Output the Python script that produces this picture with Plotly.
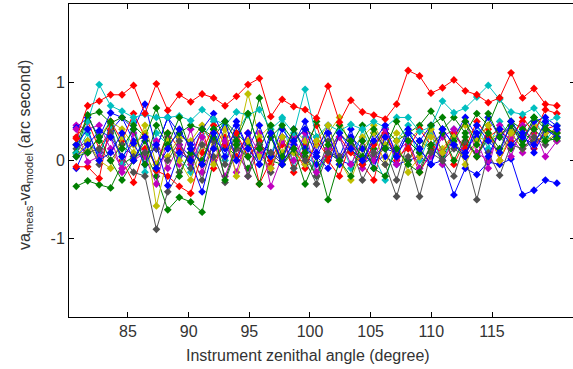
import plotly.graph_objects as go

# Instrument zenithal angle (degree)
angles = [80.74, 81.68, 82.63, 83.57, 84.51, 85.46, 86.40, 87.34, 88.28, 89.23,
          90.17, 91.11, 92.06, 93.00, 93.94, 94.89, 95.83, 96.77, 97.71, 98.66,
          99.60, 100.54, 101.49, 102.43, 103.37, 104.32, 105.26, 106.20, 107.14, 108.09,
          109.03, 109.97, 110.92, 111.86, 112.80, 113.75, 114.69, 115.63, 116.57, 117.52,
          118.46, 119.40, 120.35]

# va_meas - va_model residuals (arc second), one list per measurement set
blue_1 = [-0.10,0.22,0.10,0.38,0.55,0.25,0.30,0.15,0.55,0.20,0.05,0.40,0.25,0.15,0.30,0.05,0.20,0.10,0.00,0.15,0.05,-0.05,0.10,0.00,-0.05,0.05,0.00,0.05,-0.05,0.00,0.05,-0.05,0.00,-0.44,-0.10,-0.18,-0.02,-0.05,0.02,-0.44,-0.38,-0.25,-0.29]
green_1 = [-0.33,-0.26,-0.31,-0.35,-0.05,0.05,0.10,-0.20,-0.63,-0.47,-0.53,-0.66,0.00,0.20,0.05,-0.10,0.15,0.00,-0.05,0.10,0.05,-0.20,0.10,0.00,0.15,-0.05,0.05,0.20,0.10,0.00,0.25,0.15,0.05,0.30,0.20,0.10,0.25,0.30,0.15,0.35,0.25,0.30,0.25]
red_1 = [0.28,0.70,0.76,0.84,0.84,0.96,0.60,0.98,0.64,0.84,0.75,0.85,0.80,0.70,0.82,0.97,1.05,0.56,0.78,0.69,0.65,0.54,0.95,0.49,0.77,0.62,0.58,0.53,0.72,1.15,1.08,0.86,0.93,1.03,0.89,0.84,0.74,0.80,1.12,0.80,0.92,0.72,0.70]
cyan_1 = [0.09,0.50,0.97,0.70,0.63,0.55,0.59,0.55,0.55,0.57,0.51,0.65,0.53,0.45,0.62,0.58,0.65,0.40,0.53,0.35,0.91,0.30,0.45,0.38,0.46,0.40,0.50,0.42,0.55,0.55,0.37,0.43,0.76,0.61,0.67,0.81,0.96,0.78,0.62,0.59,0.67,0.49,0.55]
magenta_1 = [0.45,0.40,0.45,0.15,-0.10,0.35,0.05,-0.30,0.30,-0.05,0.40,-0.15,0.25,-0.20,0.20,-0.20,0.35,-0.33,0.05,0.30,-0.05,0.20,0.35,0.00,0.30,-0.10,0.20,0.40,-0.05,0.25,0.10,0.45,-0.05,0.30,0.50,0.10,0.00,0.40,0.05,0.45,0.20,0.35,0.38]
yellow_1 = [0.08,0.12,0.30,0.50,0.40,0.20,0.35,-0.58,0.05,0.30,0.25,0.45,0.15,0.40,0.20,0.85,0.30,0.45,0.10,0.40,0.25,0.20,0.35,0.55,0.15,0.30,0.45,0.20,0.35,0.25,0.40,0.30,0.15,0.35,0.45,0.30,0.25,0.35,0.40,0.30,0.45,0.35,0.40]
grey_1 = [0.15,0.25,-0.05,0.35,0.05,-0.15,-0.20,-0.88,-0.40,-0.15,0.10,-0.25,0.25,-0.05,0.35,-0.20,0.15,-0.15,0.30,-0.10,0.10,-0.20,0.25,-0.05,0.20,-0.25,0.05,0.15,-0.25,0.25,-0.10,0.20,0.00,-0.20,0.25,0.05,0.30,0.10,0.35,0.15,0.25,0.40,0.30]
blue_2 = [0.42,0.55,0.30,0.61,0.55,0.40,0.72,0.15,0.55,0.35,0.20,0.40,0.60,0.25,0.50,0.15,0.45,0.05,0.40,0.20,0.50,0.10,0.45,0.05,0.40,-0.05,0.35,0.15,0.10,0.40,0.25,0.45,0.10,0.30,0.55,0.30,0.55,0.30,0.45,0.25,0.50,0.55,0.44]
green_2 = [0.10,0.58,0.62,0.48,0.55,0.45,0.30,0.67,0.20,0.35,0.45,0.40,0.30,0.50,0.35,0.20,0.80,0.30,0.45,0.25,0.40,0.30,0.10,0.35,0.20,0.45,0.15,0.40,0.25,0.35,0.45,0.63,0.40,0.55,0.35,0.60,0.45,0.80,0.50,0.40,0.55,0.45,0.30]
red_2 = [-0.08,-0.08,-0.23,0.50,0.25,0.60,0.30,-0.13,-0.20,-0.33,-0.42,0.10,0.45,0.20,0.35,0.05,0.25,-0.05,0.20,0.15,-0.10,0.25,0.05,0.30,0.10,-0.05,0.20,0.35,0.05,0.15,0.40,0.20,0.10,0.35,0.15,0.50,0.30,0.40,0.25,0.55,0.35,0.65,0.60]
cyan_2 = [0.10,0.35,0.05,0.45,-0.05,0.50,-0.15,0.35,0.20,0.05,-0.15,0.30,0.50,0.00,0.35,0.60,0.15,0.05,0.55,-0.10,0.30,-0.20,0.15,0.30,-0.10,0.40,0.05,-0.25,0.25,0.45,0.00,0.35,-0.05,0.40,0.10,0.45,0.15,0.50,0.30,0.40,0.55,0.25,0.45]
magenta_2 = [0.40,-0.02,0.05,0.30,-0.15,0.00,0.10,0.25,-0.10,0.20,-0.05,0.30,0.00,0.25,-0.15,0.35,0.10,-0.10,0.25,0.00,0.35,-0.15,0.15,0.30,-0.05,0.25,0.00,0.40,0.10,0.25,-0.10,0.05,0.30,0.40,0.05,0.25,-0.10,0.45,0.30,0.10,0.40,0.05,0.25]
yellow_2 = [0.05,0.25,0.00,-0.10,0.30,0.10,0.45,-0.05,0.25,0.00,-0.25,0.20,-0.05,0.40,-0.20,0.25,0.05,-0.10,0.30,0.10,-0.05,0.25,0.45,0.00,-0.25,0.15,0.35,-0.05,0.25,-0.15,0.05,0.40,0.10,0.30,-0.05,0.25,0.45,0.00,0.35,0.15,0.30,0.25,0.35]
grey_2 = [0.20,0.10,0.15,0.00,0.20,0.05,0.10,0.15,0.00,0.25,-0.10,0.20,0.05,-0.28,0.15,0.05,0.20,0.10,-0.05,0.15,0.00,-0.30,0.10,0.05,0.20,0.00,0.10,-0.05,-0.46,0.05,-0.46,0.10,0.00,0.15,0.05,-0.50,0.10,-0.19,0.20,0.15,0.30,0.20,0.35]
blue_3 = [0.05,0.20,0.38,0.30,0.05,0.22,-0.05,0.20,-0.32,0.10,0.00,-0.40,0.15,0.50,0.00,0.35,-0.05,0.30,0.00,0.40,0.15,0.05,0.35,-0.05,0.30,0.15,-0.10,0.30,0.05,0.35,0.15,-0.05,0.40,0.20,0.10,0.35,0.05,0.40,0.20,0.35,0.10,0.40,0.30]
green_3 = [0.05,0.10,0.30,0.00,-0.25,0.00,0.25,-0.10,0.35,-0.20,0.15,-0.05,0.40,-0.25,0.20,0.05,-0.30,0.30,-0.05,0.15,-0.30,0.05,-0.50,0.00,-0.20,0.25,-0.10,-0.20,0.15,-0.05,-0.15,0.20,0.35,0.00,0.30,0.05,0.35,0.15,0.45,0.20,0.40,0.25,0.28]
red_3 = [0.30,0.50,0.15,0.40,0.00,-0.28,0.15,-0.05,0.35,0.15,0.00,0.40,-0.10,0.30,0.05,0.35,-0.30,0.00,0.30,-0.15,0.20,0.45,0.00,-0.20,0.25,-0.05,-0.25,0.35,0.00,0.20,-0.15,0.10,0.35,-0.05,0.25,0.05,0.40,0.00,0.30,0.50,0.15,0.40,0.45]
green_4 = [0.20,0.58,0.25,0.50,0.15,0.40,-0.05,0.45,0.20,0.55,0.10,0.00,0.40,0.50,0.25,0.60,0.15,0.45,0.05,0.40,0.10,0.50,0.20,0.45,0.25,0.05,0.40,0.15,0.50,0.25,0.10,0.45,0.55,0.25,0.50,0.20,0.60,0.30,0.50,0.25,0.55,0.40,0.35]
blue_4 = [0.20,0.40,0.00,0.10,0.35,0.00,0.30,-0.10,0.15,0.40,0.15,-0.05,0.35,0.05,0.45,0.15,-0.05,0.35,-0.05,0.25,0.40,0.05,-0.10,0.35,0.15,0.00,0.25,0.45,0.05,0.35,0.15,-0.05,0.40,0.20,0.05,0.45,0.25,0.10,0.50,0.30,0.20,0.50,0.40]

x_ticks = [85, 90, 95, 100, 105, 110, 115]
y_ticks = [-1, 0, 1]

BLUE, GREEN, RED, CYAN, MAG, YEL, GREY = "#0000FF", "#008000", "#FF0000", "#00BFBF", "#BF00BF", "#BFBF00", "#505050"

series = [
    (blue_1, BLUE), (green_1, GREEN), (red_3, RED), (cyan_2, CYAN), (magenta_1, MAG),
    (yellow_1, YEL), (grey_1, GREY), (blue_2, BLUE), (green_2, GREEN), (red_2, RED),
    (cyan_1, CYAN), (magenta_2, MAG), (yellow_2, YEL), (grey_2, GREY), (blue_3, BLUE),
    (green_3, GREEN), (green_4, GREEN), (blue_4, BLUE), (red_1, RED),
]

fig = go.Figure()
for vals, col in series:
    fig.add_trace(go.Scatter(
        x=angles, y=vals, mode="lines+markers",
        line=dict(color=col, width=1),
        marker=dict(color=col, size=6, symbol="diamond"),
        showlegend=False, hoverinfo="skip"))

TXT = "#333333"
FONT = "Liberation Sans, Arial"
axis_common = dict(showline=True, linecolor="black", linewidth=1, mirror="ticks",
                   ticks="inside", ticklen=5, tickcolor="black", showgrid=False,
                   zeroline=False, automargin=False,
                   tickfont=dict(family=FONT, size=16, color=TXT))
fig.update_xaxes(range=[80.14, 121.84], tickvals=x_ticks, ticktext=[str(v) for v in x_ticks], **axis_common)
fig.update_yaxes(range=[-2, 2], tickvals=y_ticks, ticktext=["-1", "0", "1"], **axis_common)

# plot area extends 2px past the 573px window, so the right frame line is cropped as in the reference
FIG_W, FIG_H = 575, 369
PL, PT, PB, PR = 69, 4, 317, 575
W, H = PR - PL, PB - PT
fig.update_layout(
    width=FIG_W, height=FIG_H,
    margin=dict(l=PL, r=FIG_W - PR, t=PT, b=FIG_H - PB, autoexpand=False),
    paper_bgcolor="white", plot_bgcolor="white",
    annotations=[
        dict(text="Instrument zenithal angle (degree)", xref="paper", yref="paper",
             x=(308 - PL) / W, y=-(355 - PB) / H, xanchor="center", yanchor="middle",
             showarrow=False, font=dict(family=FONT, size=16, color=TXT)),
        dict(text="va<sub>meas</sub>-va<sub>model</sub> (arc second)", xref="paper", yref="paper",
             x=-(PL - 25) / W, y=(PB - 155) / H, xanchor="center", yanchor="middle",
             textangle=-90, showarrow=False,
             font=dict(family=FONT, size=16, color=TXT)),
    ],
)

fig.write_html("out.html", config={"displayModeBar": False, "staticPlot": True},
               post_script="document.body.style.margin='0';document.body.style.overflow='hidden';")
